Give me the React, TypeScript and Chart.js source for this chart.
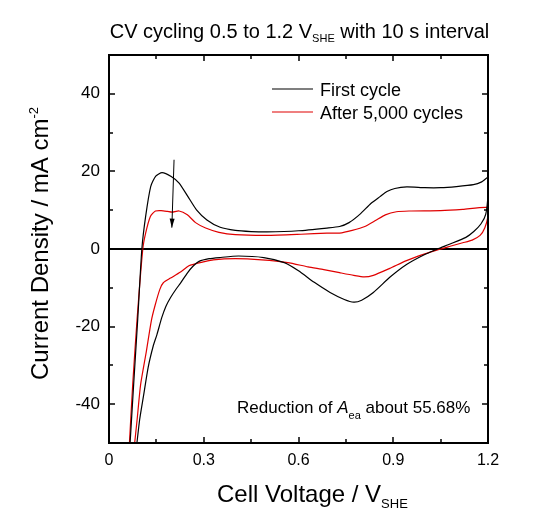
import React, { useEffect, useRef } from "react";
import { Chart, registerables } from "chart.js";

Chart.register(...registerables);

// ---------- Data ----------
const firstAnodicV = [0.066, 0.078, 0.091, 0.104, 0.116, 0.132, 0.148, 0.168, 0.197, 0.222, 0.25, 0.277, 0.31, 0.352, 0.4, 0.45, 0.5, 0.6, 0.69, 0.73, 0.76, 0.795, 0.83, 0.858, 0.88, 0.905, 0.943, 1.0, 1.05, 1.1, 1.154, 1.18, 1.2];
const firstAnodicI = [-51, -35, -18, 0, 8.4, 16.1, 18.8, 19.7, 18.7, 17.0, 13.5, 10.1, 7.5, 5.6, 4.8, 4.5, 4.4, 4.7, 5.4, 5.8, 6.8, 9.0, 11.8, 13.5, 14.8, 15.6, 16.0, 15.8, 15.8, 16.1, 16.6, 17.3, 18.4];
const firstCathodicV = [1.2, 1.193, 1.178, 1.155, 1.13, 1.08, 1.04, 0.995, 0.942, 0.889, 0.837, 0.8, 0.775, 0.745, 0.7, 0.65, 0.6, 0.555, 0.49, 0.41, 0.35, 0.317, 0.285, 0.265, 0.248, 0.228, 0.211, 0.195, 0.18, 0.167, 0.152, 0.14, 0.124, 0.109, 0.097, 0.087];
const firstCathodicI = [14.0, 9.0, 6.5, 4.5, 3.0, 1.3, 0.0, -1.6, -4.0, -7.3, -11.2, -13.2, -13.7, -13.0, -11.2, -8.6, -5.6, -3.5, -2.2, -1.8, -2.2, -2.5, -3.2, -4.5, -6.2, -8.6, -10.5, -12.5, -14.8, -17.7, -22, -25, -30.5, -38, -44, -51];

const afterAnodicV = [0.064, 0.075, 0.089, 0.107, 0.116, 0.131, 0.147, 0.165, 0.185, 0.2, 0.222, 0.248, 0.274, 0.306, 0.348, 0.4, 0.5, 0.608, 0.69, 0.73, 0.77, 0.81, 0.845, 0.875, 0.91, 0.95, 1.05, 1.12, 1.2];
const afterAnodicI = [-51, -35, -18, 0, 4.1, 8.4, 9.8, 9.9, 9.7, 9.5, 9.8, 8.8, 6.8, 5.4, 4.3, 3.7, 3.5, 3.8, 4.1, 4.1, 4.8, 5.8, 7.4, 8.8, 9.6, 9.8, 9.9, 10.2, 10.7];
const afterCathodicV = [1.2, 1.19, 1.175, 1.15, 1.12, 1.08, 1.045, 0.995, 0.942, 0.889, 0.837, 0.808, 0.775, 0.73, 0.68, 0.63, 0.566, 0.484, 0.4, 0.33, 0.296, 0.27, 0.253, 0.225, 0.195, 0.172, 0.161, 0.146, 0.134, 0.118, 0.1, 0.089, 0.08];
const afterCathodicI = [8.5, 5.5, 3.5, 2.3, 1.6, 0.7, -0.1, -1.4, -3.0, -5.0, -6.8, -7.2, -6.8, -6.1, -5.3, -4.6, -3.5, -2.8, -2.5, -2.8, -3.4, -3.9, -4.3, -6.0, -7.5, -8.7, -10.4, -14.5, -18.5, -26.5, -35, -44, -51];

const seriesLabels = ["First cycle", "After 5,000 cycles"];
const seriesColors = ["#000000", "#e00000"];

const xTickValues = [0, 0.3, 0.6, 0.9, 1.2];
const xTickLabels = ["0", "0.3", "0.6", "0.9", "1.2"];
const xMinorTicks = [0.15, 0.45, 0.75, 1.05];
const yTickValues = [-40, -20, 0, 20, 40];
const yTickLabels = ["-40", "-20", "0", "20", "40"];
const yMinorTicks = [-30, -10, 10, 30];

const arrowStart = { x: 0.206, y: 23 };
const arrowEnd = { x: 0.199, y: 5.5 };

const FONT = '"Liberation Sans", Arial, Helvetica, sans-serif';

type Run = { t: string; size: number; italic?: boolean; dy?: number };

function runsWidth(ctx: CanvasRenderingContext2D, runs: Run[]) {
  let w = 0;
  for (const r of runs) {
    ctx.font = `${r.italic ? "italic " : ""}${r.size}px ${FONT}`;
    w += ctx.measureText(r.t).width;
  }
  return w;
}

function drawRuns(ctx: CanvasRenderingContext2D, runs: Run[], x: number, y: number) {
  let cx = x;
  ctx.textBaseline = "alphabetic";
  ctx.textAlign = "left";
  for (const r of runs) {
    ctx.font = `${r.italic ? "italic " : ""}${r.size}px ${FONT}`;
    ctx.fillText(r.t, cx, y + (r.dy || 0));
    cx += ctx.measureText(r.t).width;
  }
}

const decorPlugin = {
  id: "decor",
  beforeDatasetsDraw(chart: any) {
    const { ctx, chartArea: a, scales } = chart;
    const y0 = scales.y.getPixelForValue(0);
    ctx.save();
    ctx.strokeStyle = "#000";
    ctx.lineWidth = 2;
    ctx.beginPath();
    ctx.moveTo(a.left, y0);
    ctx.lineTo(a.right, y0);
    ctx.stroke();
    ctx.restore();
  },
  afterDraw(chart: any) {
    const { ctx, chartArea: a, scales } = chart;
    const xs = scales.x;
    const ys = scales.y;
    ctx.save();
    ctx.fillStyle = "#000";
    ctx.strokeStyle = "#000";

    // frame
    ctx.lineWidth = 2;
    ctx.strokeRect(a.left, a.top, a.right - a.left, a.bottom - a.top);

    // inward ticks
    ctx.lineWidth = 1.5;
    const tick = (x1: number, y1: number, x2: number, y2: number) => {
      ctx.beginPath();
      ctx.moveTo(x1, y1);
      ctx.lineTo(x2, y2);
      ctx.stroke();
    };
    const major = 6, minor = 4;
    xTickValues.forEach((v) => {
      const px = Math.round(xs.getPixelForValue(v));
      tick(px, a.bottom, px, a.bottom - major);
      tick(px, a.top, px, a.top + major);
    });
    xMinorTicks.forEach((v) => {
      const px = Math.round(xs.getPixelForValue(v));
      tick(px, a.bottom, px, a.bottom - minor);
      tick(px, a.top, px, a.top + minor);
    });
    yTickValues.forEach((v) => {
      const py = Math.round(ys.getPixelForValue(v));
      tick(a.left, py, a.left + major, py);
      tick(a.right, py, a.right - major, py);
    });
    yMinorTicks.forEach((v) => {
      const py = Math.round(ys.getPixelForValue(v));
      tick(a.left, py, a.left + minor, py);
      tick(a.right, py, a.right - minor, py);
    });

    // arrow
    const ax1 = xs.getPixelForValue(arrowStart.x), ay1 = ys.getPixelForValue(arrowStart.y);
    const ax2 = xs.getPixelForValue(arrowEnd.x), ay2 = ys.getPixelForValue(arrowEnd.y);
    ctx.lineWidth = 1;
    tick(ax1, ay1, ax2, ay2);
    const ang = Math.atan2(ay2 - ay1, ax2 - ax1);
    const hl = 9, hw = 2.5;
    ctx.beginPath();
    ctx.moveTo(ax2, ay2);
    ctx.lineTo(ax2 - hl * Math.cos(ang) + hw * Math.sin(ang), ay2 - hl * Math.sin(ang) - hw * Math.cos(ang));
    ctx.lineTo(ax2 - hl * Math.cos(ang) - hw * Math.sin(ang), ay2 - hl * Math.sin(ang) + hw * Math.cos(ang));
    ctx.closePath();
    ctx.fill();

    // legend
    chart.data.datasets.forEach((ds: any, i: number) => {
      const ly = 89 + i * 23;
      ctx.strokeStyle = ds.borderColor;
      ctx.lineWidth = 1.2;
      tick(272, ly, 313, ly);
      ctx.fillStyle = "#000";
      drawRuns(ctx, [{ t: ds.label, size: 18 }], 320, ly + 6.5);
    });

    ctx.fillStyle = "#000";
    // title
    const title: Run[] = [
      { t: "CV cycling 0.5 to 1.2 V", size: 20 },
      { t: "SHE", size: 11, dy: 4 },
      { t: " with 10 s interval", size: 20 },
    ];
    const tw = runsWidth(ctx, title);
    drawRuns(ctx, title, (a.left + a.right) / 2 - tw / 2 + 1, 38);

    // x axis title
    drawRuns(ctx, [
      { t: "Cell Voltage / V", size: 24 },
      { t: "SHE", size: 13, dy: 6 },
    ], 217, 502);

    // y axis title
    ctx.save();
    ctx.translate(48, 380);
    ctx.rotate(-Math.PI / 2);
    drawRuns(ctx, [
      { t: "Current Density / mA cm", size: 24 },
      { t: "-2", size: 13, dy: -10 },
    ], 0, 0);
    ctx.restore();

    // annotation
    drawRuns(ctx, [
      { t: "Reduction of ", size: 17 },
      { t: "A", size: 17, italic: true },
      { t: "ea", size: 11, dy: 6 },
      { t: " about 55.68%", size: 17 },
    ], 237, 413);

    ctx.restore();
  },
};

function toPoints(v: number[], c: number[]) {
  return v.map((x, i) => ({ x, y: c[i] }));
}

export default function App() {
  const ref = useRef<HTMLCanvasElement | null>(null);
  useEffect(() => {
    if (!ref.current) return;
    const chart = new Chart(ref.current, {
      type: "scatter",
      data: {
        datasets: [
          {
            label: seriesLabels[0],
            data: [...toPoints(firstAnodicV, firstAnodicI), ...toPoints(firstCathodicV, firstCathodicI)],
            borderColor: seriesColors[0],
            backgroundColor: seriesColors[0],
            showLine: true,
            pointRadius: 0,
            borderWidth: 1.2,
            tension: 0.2,
          },
          {
            label: seriesLabels[1],
            data: [...toPoints(afterAnodicV, afterAnodicI), ...toPoints(afterCathodicV, afterCathodicI)],
            borderColor: seriesColors[1],
            backgroundColor: seriesColors[1],
            showLine: true,
            pointRadius: 0,
            borderWidth: 1.2,
            tension: 0.2,
          },
        ],
      },
      options: {
        animation: false,
        responsive: false,
        devicePixelRatio: 1,
        layout: { padding: { left: 0, right: 45, top: 55, bottom: 0 } },
        plugins: {
          legend: { display: false },
          title: { display: false },
          tooltip: { enabled: false },
        },
        events: [],
        scales: {
          x: {
            type: "linear",
            min: 0,
            max: 1.2,
            grid: { display: false },
            border: { display: false },
            afterBuildTicks: (s: any) => {
              s.ticks = xTickValues.map((v) => ({ value: v }));
            },
            afterFit: (s: any) => {
              s.height = 72;
            },
            ticks: {
              autoSkip: false,
              maxRotation: 0,
              padding: 0,
              color: "#000",
              font: { family: FONT, size: 16 },
              callback: (_v: any, i: number) => xTickLabels[i],
            },
          },
          y: {
            type: "linear",
            min: -50,
            max: 50,
            grid: { display: false },
            border: { display: false },
            afterBuildTicks: (s: any) => {
              s.ticks = yTickValues.map((v) => ({ value: v }));
            },
            afterFit: (s: any) => {
              s.width = 109;
            },
            ticks: {
              autoSkip: false,
              padding: 1,
              color: "#000",
              font: { family: FONT, size: 17 },
              callback: (_v: any, i: number) => yTickLabels[i],
            },
          },
        },
      },
      plugins: [decorPlugin],
    });
    return () => chart.destroy();
  }, []);
  return (
    <div style={{ position: "absolute", left: 0, top: 0, width: 533, height: 515, background: "#fff" }}>
      <canvas ref={ref} width={533} height={515} style={{ display: "block" }} />
    </div>
  );
}
